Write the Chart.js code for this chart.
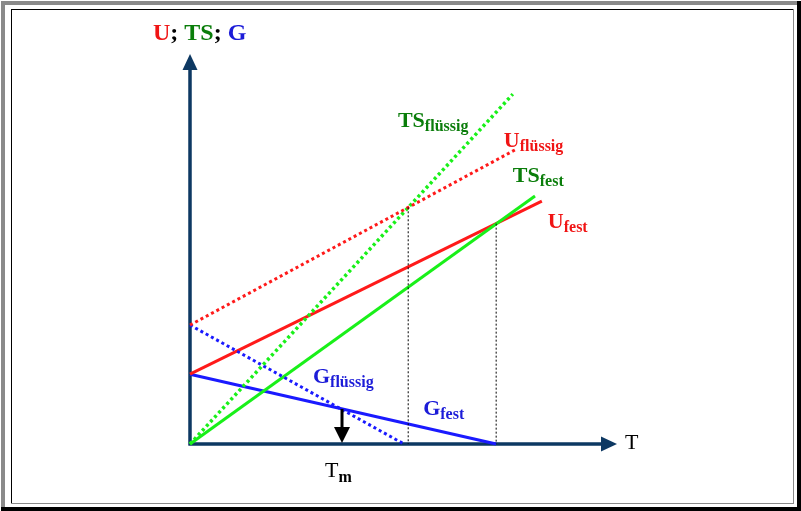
<!DOCTYPE html>
<html>
<head>
<meta charset="utf-8">
<script src="https://cdn.jsdelivr.net/npm/chart.js@4.4.1/dist/chart.umd.min.js"></script>
<style>
  body { margin: 0; background: #fff; }
  #chart { display: block; }
</style>
</head>
<body>
<canvas id="chart" width="801" height="511"></canvas>
<script>
// Phase diagram: inner energy U, entropy term TS and free energy G over T
// values (arbitrary units, axes run 0..10)
const uFest = [{ x: 0, y: 1.79 }, { x: 8.24, y: 6.23 }];
const uFluessig = [{ x: 0, y: 3.05 }, { x: 7.61, y: 7.54 }];
const tsFest = [{ x: 0, y: 0 }, { x: 8.08, y: 6.36 }];
const tsFluessig = [{ x: 0, y: 0 }, { x: 7.56, y: 8.97 }];
const gFest = [{ x: 0, y: 1.79 }, { x: 7.17, y: 0 }];
const gFluessig = [{ x: 0, y: 3.05 }, { x: 5.01, y: 0 }];
const guideLiquid = [{ x: 5.11, y: 6.07 }, { x: 5.11, y: 0 }];
const guideSolid = [{ x: 7.17, y: 5.65 }, { x: 7.17, y: 0 }];
const meltX = 3.56;
const meltTop = 0.9;

const X_MAX = 10;
const Y_MAX = 10;

const FONT = '"Liberation Serif", "Times New Roman", serif';
const AXIS_COLOR = "#0d3862";

// label placement in data units (left edge, baseline)
const labels = [
  { main: "TS", sub: "flüssig", x: 4.87, y: 8.13, color: "#0a7d0a" },
  { main: "U", sub: "flüssig", x: 7.35, y: 7.61, color: "#f01414" },
  { main: "TS", sub: "fest", x: 7.56, y: 6.72, color: "#0a7d0a" },
  { main: "U", sub: "fest", x: 8.38, y: 5.54, color: "#f01414" },
  { main: "G", sub: "flüssig", x: 2.88, y: 1.57, color: "#1c1cd8" },
  { main: "G", sub: "fest", x: 5.46, y: 0.74, color: "#1c1cd8" }
];

function line(data, color, width, dash) {
  return {
    data: data,
    showLine: true,
    borderColor: color,
    borderWidth: width,
    borderDash: dash || [],
    pointRadius: 0,
    fill: false,
    clip: false
  };
}

function subText(ctx, main, sub, x, y, color, mainFont, subFont, drop) {
  ctx.fillStyle = color;
  ctx.font = mainFont;
  ctx.fillText(main, x, y);
  const w = ctx.measureText(main).width;
  ctx.font = subFont;
  ctx.fillText(sub, x + w, y + drop);
}

const sketch = {
  id: "sketch",
  beforeDraw(chart) {
    const ctx = chart.ctx;
    ctx.save();
    ctx.fillStyle = "#fff";
    ctx.fillRect(0, 0, 801, 511);
    // outer raised frame
    ctx.fillStyle = "#8a8a8a";
    ctx.fillRect(1, 1, 796, 4);
    ctx.fillRect(1, 1, 4, 506);
    ctx.fillStyle = "#000";
    ctx.fillRect(797, 1, 4, 510);
    ctx.fillRect(1, 507, 800, 4);
    // inner sunken frame
    ctx.fillRect(11, 9, 783, 1);
    ctx.fillRect(11, 9, 1, 495);
    ctx.fillStyle = "#8a8a8a";
    ctx.fillRect(793, 9, 1, 495);
    ctx.fillRect(11, 503, 783, 1);
    ctx.restore();
  },
  beforeDatasetsDraw(chart) {
    const ctx = chart.ctx;
    const xs = chart.scales.x;
    const ys = chart.scales.y;
    const x0 = xs.getPixelForValue(0);
    const y0 = ys.getPixelForValue(0);
    const xt = xs.getPixelForValue(X_MAX);
    const yt = ys.getPixelForValue(Y_MAX);
    ctx.save();
    ctx.strokeStyle = AXIS_COLOR;
    ctx.fillStyle = AXIS_COLOR;
    ctx.lineWidth = 3.5;
    ctx.beginPath();
    ctx.moveTo(x0, y0 + 1.5);
    ctx.lineTo(x0, yt + 14);
    ctx.moveTo(x0 - 1.5, y0);
    ctx.lineTo(xt - 14, y0);
    ctx.stroke();
    ctx.beginPath();
    ctx.moveTo(x0, yt);
    ctx.lineTo(x0 - 7.5, yt + 16);
    ctx.lineTo(x0 + 7.5, yt + 16);
    ctx.closePath();
    ctx.fill();
    ctx.beginPath();
    ctx.moveTo(xt, y0);
    ctx.lineTo(xt - 16, y0 - 7.5);
    ctx.lineTo(xt - 16, y0 + 7.5);
    ctx.closePath();
    ctx.fill();
    ctx.restore();
  },
  afterDatasetsDraw(chart) {
    const ctx = chart.ctx;
    const xs = chart.scales.x;
    const ys = chart.scales.y;
    const y0 = ys.getPixelForValue(0);
    const xt = xs.getPixelForValue(X_MAX);
    ctx.save();

    // melting point arrow
    const mx = xs.getPixelForValue(meltX);
    const my = ys.getPixelForValue(meltTop);
    ctx.strokeStyle = "#000";
    ctx.fillStyle = "#000";
    ctx.lineWidth = 3;
    ctx.beginPath();
    ctx.moveTo(mx, my);
    ctx.lineTo(mx, y0 - 14);
    ctx.stroke();
    ctx.beginPath();
    ctx.moveTo(mx, y0 - 1);
    ctx.lineTo(mx - 8, y0 - 17);
    ctx.lineTo(mx + 8, y0 - 17);
    ctx.closePath();
    ctx.fill();

    // title of the y axis
    ctx.textBaseline = "alphabetic";
    ctx.textAlign = "left";
    ctx.font = "bold 24px " + FONT;
    let tx = 153;
    const parts = [["U", "#f01414"], ["; ", "#000"], ["TS", "#0a7d0a"], ["; ", "#000"], ["G", "#1c1cd8"]];
    parts.forEach(p => {
      ctx.fillStyle = p[1];
      ctx.fillText(p[0], tx, 40);
      tx += ctx.measureText(p[0]).width;
    });

    // x axis label and melting temperature
    ctx.fillStyle = "#000";
    ctx.font = "22px " + FONT;
    ctx.fillText("T", xt + 8, y0 + 5);
    subText(ctx, "T", "m", mx - 17, y0 + 33, "#000", "22px " + FONT, "bold 16px " + FONT, 5);

    // curve labels
    labels.forEach(l => {
      subText(ctx, l.main, l.sub, xs.getPixelForValue(l.x), ys.getPixelForValue(l.y),
        l.color, "bold 22px " + FONT, "bold 16px " + FONT, 4);
    });
    ctx.restore();
  }
};

new Chart(document.getElementById("chart"), {
  type: "scatter",
  data: {
    datasets: [
      line(guideLiquid, "#000", 1, [2, 2]),
      line(guideSolid, "#000", 1, [2, 2]),
      line(uFluessig, "#ff1a1a", 3, [3, 3]),
      line(tsFluessig, "#19f019", 3.5, [3, 3]),
      line(gFluessig, "#1a1aff", 3, [3, 3]),
      line(tsFest, "#19f019", 3),
      line(uFest, "#ff1a1a", 3),
      line(gFest, "#1a1aff", 3)
    ]
  },
  options: {
    responsive: false,
    animation: false,
    layout: { padding: { left: 190, top: 54, right: 184, bottom: 67 } },
    plugins: { legend: { display: false }, tooltip: { enabled: false } },
    scales: {
      x: { type: "linear", min: 0, max: X_MAX, display: false },
      y: { type: "linear", min: 0, max: Y_MAX, display: false }
    }
  },
  plugins: [sketch]
});
</script>
</body>
</html>
